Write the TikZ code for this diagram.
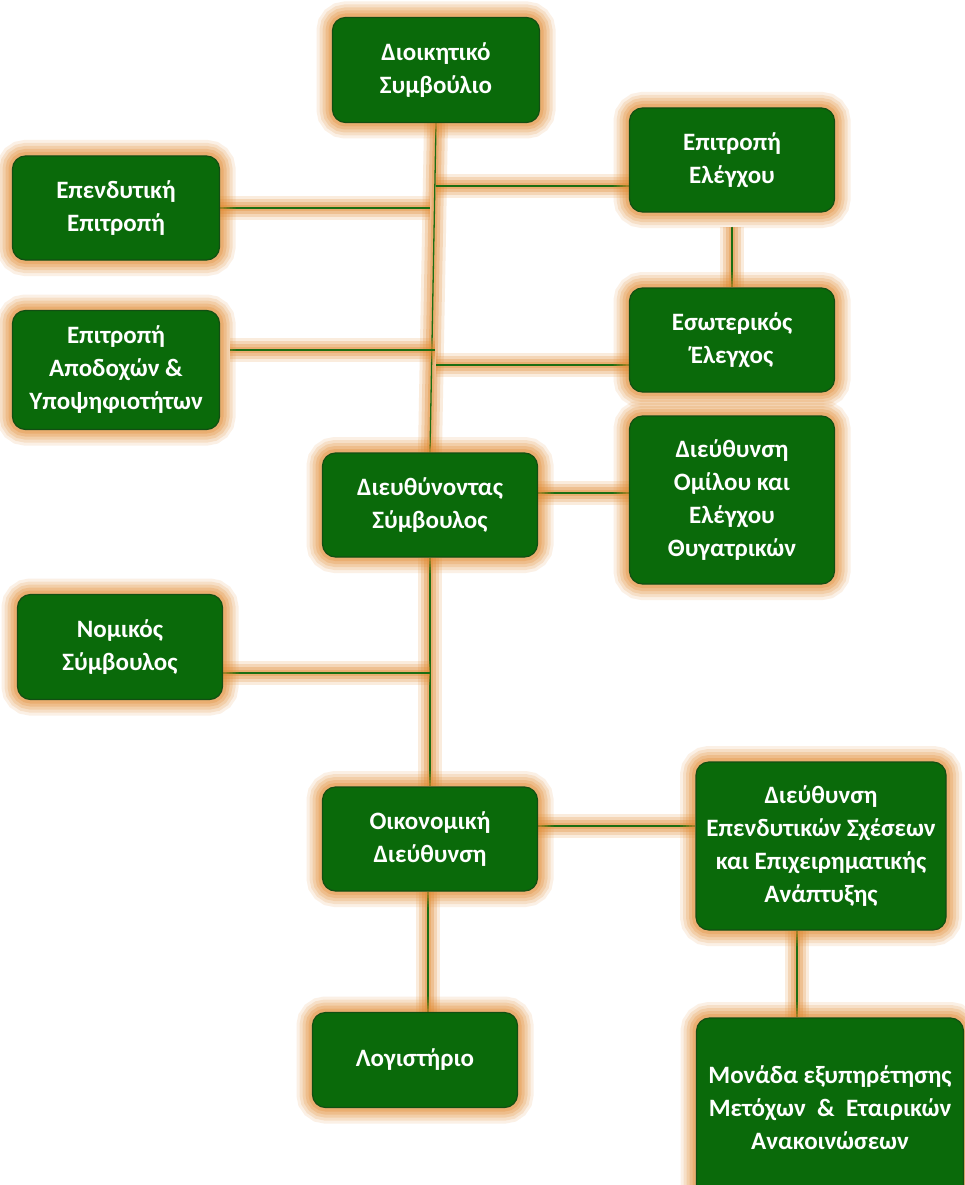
\documentclass[tikz,border=0pt]{standalone}
\usepackage{fontspec}
\setmainfont{Carlito}
\usepackage{tikz}
\usepackage{xcolor}
\usetikzlibrary{
    calc,
    positioning
}
\definecolor{boxgreen}{RGB}{10,106,10}
\definecolor{edgegreen}{RGB}{18,78,18}
\definecolor{linegreen}{RGB}{28,110,18}
\definecolor{gloworange}{RGB}{226,138,48}
\pgfdeclarelayer{background}
\pgfsetlayers{background,main}
\tikzset{
    halo/.style={
        preaction={draw=gloworange, draw opacity=0.12, line width=32pt},
        preaction={draw=gloworange, draw opacity=0.16, line width=26pt},
        preaction={draw=gloworange, draw opacity=0.2, line width=20pt},
        preaction={draw=gloworange, draw opacity=0.24, line width=14pt},
        preaction={draw=gloworange, draw opacity=0.28, line width=8pt}},
    unit/.style={rectangle, rounded corners=13pt, fill=boxgreen, draw=edgegreen,
        line width=1.2pt, text=white, align=center, halo,
        font=\fontsize{25}{33}\selectfont\bfseries},
    link/.style={draw=linegreen, line width=1.3pt,
        preaction={draw=gloworange, draw opacity=0.16, line width=24pt},
        preaction={draw=gloworange, draw opacity=0.22, line width=18pt},
        preaction={draw=gloworange, draw opacity=0.28, line width=12pt},
        preaction={draw=gloworange, draw opacity=0.32, line width=6pt}}
}

\begin{document}
\begin{tikzpicture}[x=1pt, y=-1pt]
    \useasboundingbox (0, 0) rectangle (964, 1185);
    % boxes
    \node[unit, minimum width=207pt, minimum height=105pt] (board) at (436, 70) {Διοικητικό\\Συμβούλιο};
    \node[unit, minimum width=205pt, minimum height=104pt] (audit) at (732, 160) {Επιτροπή\\Ελέγχου};
    \node[unit, minimum width=207pt, minimum height=104pt] (invest) at (116, 208) {Επενδυτική\\Επιτροπή};
    \node[unit, minimum width=205pt, minimum height=104pt] (intaudit) at (732, 340) {Εσωτερικός\\Έλεγχος};
    \node[unit, minimum width=207pt, minimum height=119pt] (remun) at (116, 370) {Επιτροπή\\Αποδοχών \&\\Υποψηφιοτήτων};
    \node[unit, minimum width=215pt, minimum height=104pt] (ceo) at (430, 505) {Διευθύνοντας\\Σύμβουλος};
    \node[unit, minimum width=205pt, minimum height=168pt] (group) at (732, 500) {Διεύθυνση\\Ομίλου και\\Ελέγχου\\Θυγατρικών};
    \node[unit, minimum width=205pt, minimum height=105pt] (legal) at (120, 647) {Νομικός\\Σύμβουλος};
    \node[unit, minimum width=215pt, minimum height=104pt] (finance) at (430, 839) {Οικονομική\\Διεύθυνση};
    \node[unit, minimum width=250pt, minimum height=168pt] (ir) at (821, 846) {Διεύθυνση\\Επενδυτικών Σχέσεων\\και Επιχειρηματικής\\Ανάπτυξης};
    \node[unit, minimum width=205pt, minimum height=95pt] (acct) at (415, 1060) {Λογιστήριο};
    \node[unit, minimum width=267pt, minimum height=180pt] (share) at (830, 1108) {Μονάδα εξυπηρέτησης\\Μετόχων \ \& \ Εταιρικών\\Ανακοινώσεων};

    % junctions on the main line
    \coordinate (jaudit) at (436, 186);
    \coordinate (jinvest) at (430, 208);
    \coordinate (jremun) at (435, 350);
    \coordinate (jint) at (436, 365);
    \coordinate (jlegal) at (430, 673);

    \begin{pgfonlayer}{background}
        \fill[white] (0, 0) rectangle (964, 1185);
        \draw[link] (board.south) -- (ceo.north);
        \draw[link] (ceo.south) -- (finance.north);
        \draw[link] (jaudit) -- ([yshift=-26pt]audit.west);
        \draw[link] (invest.east) -- (jinvest);
        \draw[link] ([xshift=10pt, yshift=20pt]remun.east) -- (jremun);
        \draw[link] (jint) -- ([yshift=-25pt]intaudit.west);
        \draw[link] ([yshift=-14pt]audit.south) -- (intaudit.north);
        \draw[link] ([yshift=12pt]ceo.east) -- ([yshift=7pt]group.west);
        \draw[link] ([yshift=-26pt]legal.east) -- (jlegal);
        \draw[link] ([yshift=13pt]finance.east) -- ([yshift=20pt]ir.west);
        \draw[link] ([xshift=-2pt]finance.south) -- ([xshift=-2pt]finance.south |- acct.north);
        \draw[link] ([xshift=-24pt]ir.south) -- ([xshift=-24pt]ir.south |- share.north);
    \end{pgfonlayer}
\end{tikzpicture}
\end{document}
